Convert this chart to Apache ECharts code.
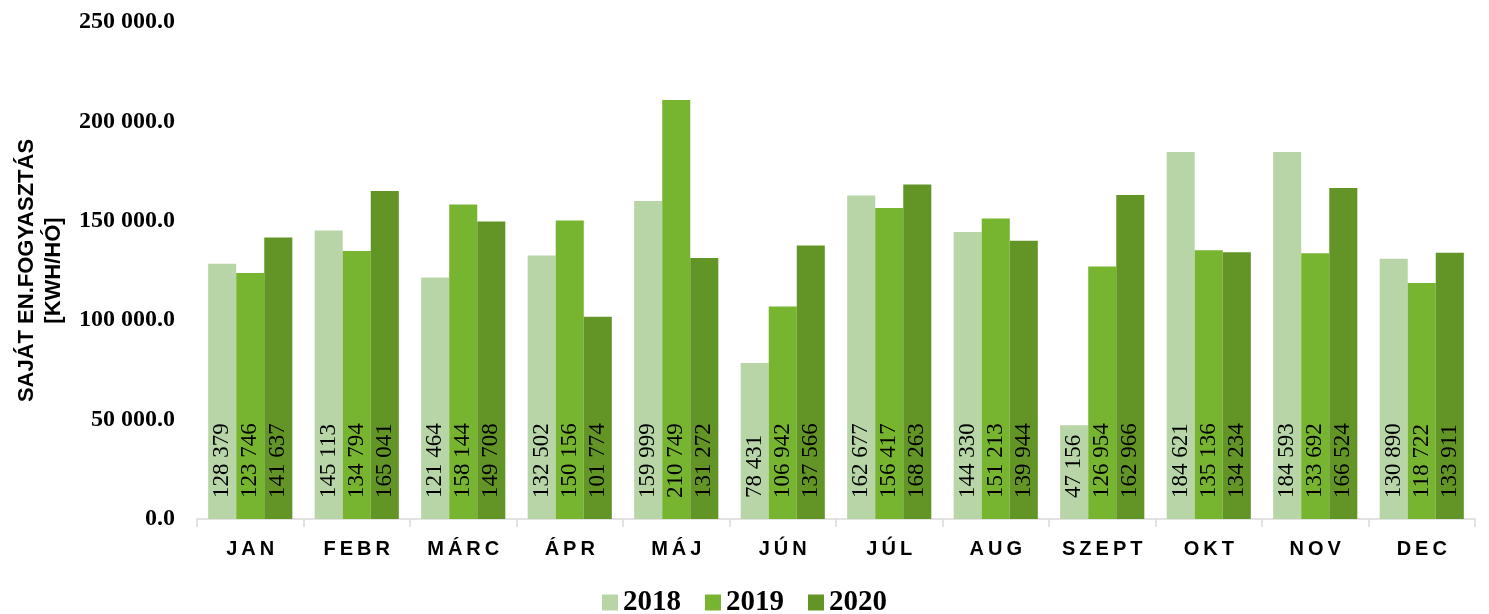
<!DOCTYPE html>
<html>
<head>
<meta charset="utf-8">
<script src="https://cdn.jsdelivr.net/npm/echarts@6/dist/echarts.min.js"></script>
<style>html,body{margin:0;padding:0;background:#fff;}#c{width:1489px;height:614px;}</style>
</head>
<body>
<div id="c"></div>
<script>
const categories = ['JAN','FEBR','MÁRC','ÁPR','MÁJ','JÚN','JÚL','AUG','SZEPT','OKT','NOV','DEC'];
const years = ['2018','2019','2020'];
const values2018 = [128379,145113,121464,132502,159999,78431,162677,144330,47156,184621,184593,130890];
const values2019 = [123746,134794,158144,150156,210749,106942,156417,151213,126954,135136,133692,118722];
const values2020 = [141637,165041,149708,101774,131272,137566,168263,139944,162966,134234,166524,133911];
const yTicks = [0,50000,100000,150000,200000,250000];

const colors = ['#b7d5a6','#77b42f','#629526'];
function group(n){return String(Math.round(n)).replace(/\B(?=(\d{3})+(?!\d))/g,' ');}

const chart = echarts.init(document.getElementById('c'));
const seriesData = [values2018, values2019, values2020];
chart.setOption({
  animation:false,
  grid:{left:197,right:14,top:22,bottom:95},
  legend:{
    data:years, top:583, left:'center', itemWidth:16, itemHeight:16, itemGap:24,
    icon:'rect',
    textStyle:{fontFamily:'Liberation Serif',fontWeight:'bold',fontSize:29,color:'#000'}
  },
  xAxis:{
    type:'category', data:categories,
    axisLine:{lineStyle:{color:'#d9d9d9',width:1.5}},
    axisTick:{show:true,length:8,lineStyle:{color:'#d9d9d9',width:1.5}},
    axisLabel:{margin:20, interval:0,
      formatter:v=>v.split('').map(ch=>'{c|'+ch+'}').join(''),
      rich:{c:{fontFamily:'Liberation Sans',fontWeight:'bold',fontSize:20,color:'#000',padding:[0,2,0,2]}}
    }
  },
  yAxis:{
    type:'value', min:0, max:250000, interval:50000,
    name:'SAJÁT EN.FOGYASZTÁS\n[KWH/HÓ]', nameLocation:'middle', nameRotate:90, nameGap:130,
    nameTextStyle:{fontFamily:'Liberation Sans',fontWeight:'bold',fontSize:22,color:'#000',lineHeight:27},
    axisLine:{show:false}, axisTick:{show:false}, splitLine:{show:false},
    axisLabel:{margin:22,fontFamily:'Liberation Serif',fontWeight:'bold',fontSize:24,color:'#000',
      formatter:v=>group(v)+'.0'}
  },
  series: years.map((y,i)=>({
    name:y, type:'bar', data:seriesData[i], barGap:'0%', barCategoryGap:'21%',
    itemStyle:{color:colors[i]},
    label:{show:true, position:'insideBottom', rotate:90, align:'left', verticalAlign:'middle', distance:21,
      fontFamily:'Liberation Serif', fontSize:23, color:'#000', formatter:p=>group(p.value)}
  }))
});
</script>
</body>
</html>
